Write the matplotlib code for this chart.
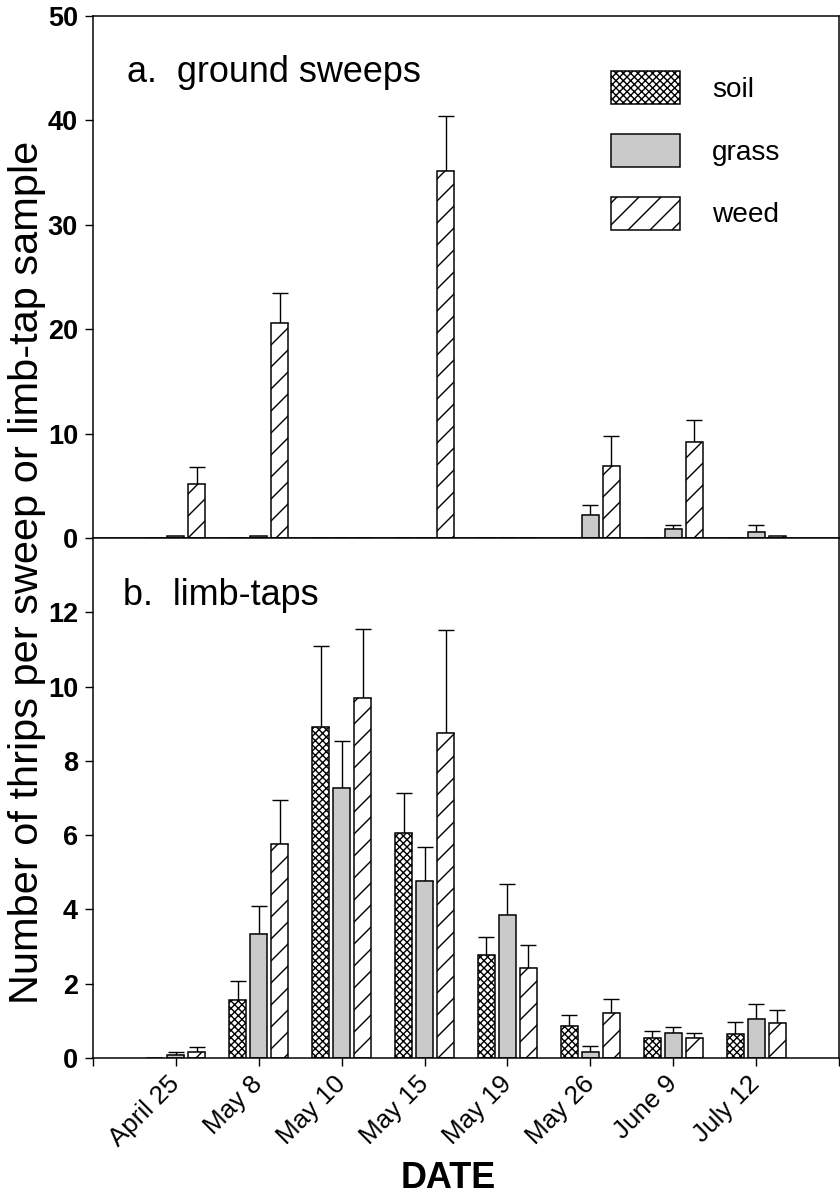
"""
Thrips per ground sweep / limb-tap sample by date, soil vs grass vs weed
"""

import matplotlib

matplotlib.use("Agg")
import matplotlib.pyplot as plt
import numpy as np

DPI = 132


def px(v):
    # pixel -> points at the figure dpi
    return v * 72.0 / DPI


dates = ["April 25", "May 8", "May 10", "May 15", "May 19", "May 26", "June 9", "July 12"]
series = ["soil", "grass", "weed"]

# a. ground sweeps (mean and SE)
soil_a = [0, 0, 0, 0, 0, 0, 0, 0]
soil_a_se = [0, 0, 0, 0, 0, 0, 0, 0]
grass_a = [0.2, 0.2, 0, 0, 0, 2.2, 0.9, 0.6]
grass_a_se = [0, 0, 0, 0, 0, 1.0, 0.35, 0.65]
weed_a = [5.2, 20.6, 0, 35.2, 0, 6.9, 9.2, 0.2]
weed_a_se = [1.6, 2.9, 0, 5.2, 0, 2.9, 2.1, 0]

# b. limb-taps (mean and SE)
soil_b = [0, 1.57, 8.9, 6.05, 2.76, 0.85, 0.55, 0.65]
soil_b_se = [0, 0.51, 2.2, 1.09, 0.51, 0.32, 0.18, 0.32]
grass_b = [0.08, 3.35, 7.27, 4.76, 3.84, 0.17, 0.68, 1.05]
grass_b_se = [0.07, 0.73, 1.27, 0.92, 0.84, 0.16, 0.15, 0.4]
weed_b = [0.17, 5.76, 9.7, 8.76, 2.43, 1.2, 0.55, 0.95]
weed_b_se = [0.13, 1.19, 1.84, 2.75, 0.6, 0.4, 0.13, 0.35]

plt.rcParams["font.family"] = ["Liberation Sans", "DejaVu Sans"]
plt.rcParams["hatch.linewidth"] = px(1.4)

styles = {
    "soil": dict(facecolor="white", hatch="xxxxxx"),
    "grass": dict(facecolor="#cacaca", hatch=None),
    "weed": dict(facecolor="white", hatch="//"),
}
offsets = {"soil": -0.253, "grass": 0.0, "weed": 0.253}
bar_w = 0.205

fig = plt.figure(figsize=(840 / DPI, 1203 / DPI), dpi=DPI)
left, right = 93 / 840, 839 / 840
y_top, y_mid, y_bot = 1 - 16 / 1203, 1 - 538 / 1203, 1 - 1058 / 1203
ax_a = fig.add_axes([left, y_mid, right - left, y_top - y_mid])
ax_b = fig.add_axes([left, y_bot, right - left, y_mid - y_bot])

x = np.arange(len(dates))


def draw_panel(ax, data):
    bars = []
    for name, (vals, se) in zip(series, data):
        pos = x + offsets[name]
        b = ax.bar(pos, vals, bar_w, edgecolor="black", linewidth=px(1.5),
                   label=name, zorder=2, **styles[name])
        bars.append(b)
        se = np.array(se)
        m = se > 0
        ax.errorbar(pos[m], np.array(vals)[m], yerr=[np.zeros(m.sum()), se[m]],
                    fmt="none", ecolor="black", elinewidth=px(1.4),
                    capsize=px(8), capthick=px(1.4), zorder=1)
    ax.set_xlim(-1, 8)
    for s in ax.spines.values():
        s.set_linewidth(px(1.5))
    ax.tick_params(axis="both", direction="out", length=px(8), width=px(1.4))
    ax.tick_params(axis="y", labelsize=px(27), pad=px(7))
    return bars


bars_a = draw_panel(ax_a, [(soil_a, soil_a_se), (grass_a, grass_a_se), (weed_a, weed_a_se)])
ax_a.set_ylim(0, 50)
ax_a.set_yticks(range(0, 51, 10))
ax_a.set_xticks([1, 3, 5, 7])
ax_a.set_xticklabels([])
for t in ax_a.get_yticklabels():
    t.set_fontweight("bold")

draw_panel(ax_b, [(soil_b, soil_b_se), (grass_b, grass_b_se), (weed_b, weed_b_se)])
ax_b.set_ylim(0, 14)
ax_b.set_yticks(range(0, 13, 2))
ax_b.set_xticks(range(-1, 9))
ax_b.set_xticklabels([""] + dates + [""], rotation=45, ha="right",
                     va="center", rotation_mode="anchor", fontsize=px(26))
ax_b.tick_params(axis="x", pad=px(14))
for t in ax_b.get_yticklabels():
    t.set_fontweight("bold")

fig.text(127 / 840, 1 - 82 / 1203, "a.  ground sweeps", fontsize=px(36), va="baseline")
fig.text(123 / 840, 1 - 605 / 1203, "b.  limb-taps", fontsize=px(36), va="baseline")
fig.text(27 / 840, 1 - 572 / 1203, "Number of thrips per sweep or limb-tap sample",
         fontsize=px(41.5), rotation=90, ha="center", va="center")
fig.text(448 / 840, 1 - 1178 / 1203, "DATE", fontsize=px(36), fontweight="bold",
         ha="center", va="center")

ax_a.legend(handles=bars_a, loc="upper left", bbox_to_anchor=(611 / 840, 1 - 71 / 1203),
            bbox_transform=fig.transFigure, frameon=False, fontsize=px(28),
            borderpad=0, borderaxespad=0, handlelength=69 / 28, handleheight=40 / 28,
            labelspacing=30 / 28, handletextpad=32 / 28)

plt.savefig("out.png", dpi=DPI)
